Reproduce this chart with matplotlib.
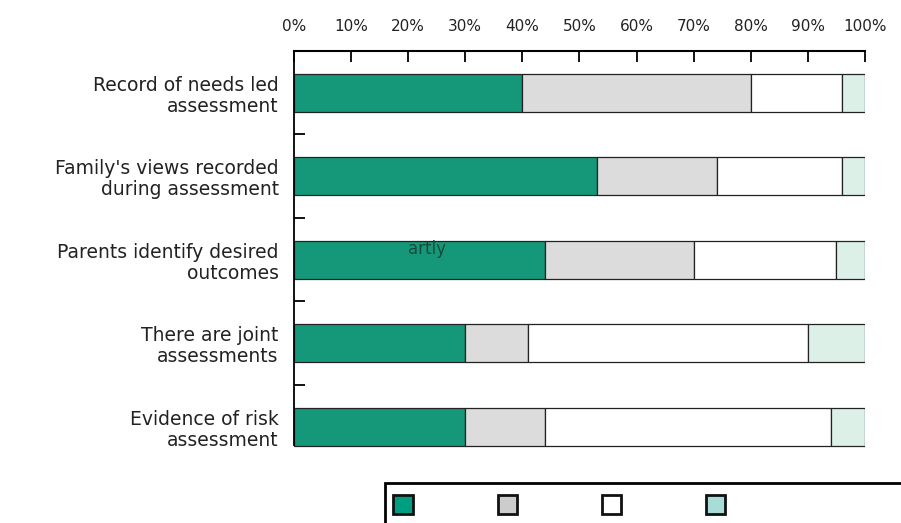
import matplotlib
matplotlib.use("Agg")
import matplotlib.pyplot as plt
from matplotlib.patches import Patch, Rectangle

categories = [
    "Record of needs led\nassessment",
    "Family's views recorded\nduring assessment",
    "Parents identify desired\noutcomes",
    "There are joint\nassessments",
    "Evidence of risk\nassessment",
]
series_names = ["Fully", "Partly", "Not at all", "Not known"]
fully = [40, 53, 44, 30, 30]
partly = [40, 21, 26, 11, 14]
not_at_all = [16, 22, 25, 49, 50]
not_known = [4, 4, 5, 10, 6]
tick_values = [0, 10, 20, 30, 40, 50, 60, 70, 80, 90, 100]
tick_labels = [f"{v}%" for v in tick_values]

bar_colors = ["#15987a", "#dcdcdc", "#ffffff", "#dcf0e8"]
legend_colors = ["#009e80", "#cccccc", "#ffffff", "#a8dcd6"]

plt.rcParams["font.family"] = ["DejaVu Sans"]
fig = plt.figure(figsize=(9.01, 5.23), dpi=100)
ax = fig.add_axes([0.3263, 0.1042, 0.6337, 0.7983])

y = list(range(len(categories)))
left = [0] * len(categories)
for vals, col in zip([fully, partly, not_at_all, not_known], bar_colors):
    ax.barh(y, vals, left=left, height=0.46, color=col,
            edgecolor="#222222", linewidth=0.9)
    left = [a + b for a, b in zip(left, vals)]

ax.set_xlim(0, 100)
ax.set_ylim(4.5, -0.5)
ax.xaxis.tick_top()
ax.set_xticks(tick_values)
ax.set_xticklabels(tick_labels, fontsize=11, color="#222222")
ax.tick_params(axis="x", direction="in", length=8, width=1.3, pad=12)

ax.set_yticks([0.5, 1.5, 2.5, 3.5])
ax.set_yticklabels([])
ax.tick_params(axis="y", which="major", direction="in", length=8, width=1.3)
ax.set_yticks(y, minor=True)
ax.set_yticklabels(categories, minor=True, fontsize=13.5, color="#222222",
                   linespacing=1.12)
ax.tick_params(axis="y", which="minor", length=0, pad=11)

for s in ["right", "bottom"]:
    ax.spines[s].set_visible(False)
ax.spines["top"].set_linewidth(1.5)
ax.spines["left"].set_linewidth(1.3)
ax.spines["left"].set_bounds(-0.5, 4.22)

ax.text(20, 1.87, "artly", fontsize=12, color="#1a4a3a", ha="left", va="center")

# legend frame (extends past the figure edge)
fig.patches.append(Rectangle((385 / 901, -0.05), 0.6, 1 - 483 / 523 + 0.05,
                             transform=fig.transFigure, fill=False,
                             edgecolor="black", linewidth=2, clip_on=False))
handles = [Patch(facecolor=c, edgecolor="#111111", linewidth=2) for c in legend_colors]
fig.legend(handles, ["", "", "", ""], ncol=4, frameon=False,
           loc="upper left", bbox_to_anchor=(385 / 901, 1 - 487 / 523),
           handlelength=1.4, handleheight=1.7, handletextpad=0.0,
           columnspacing=6.1, borderpad=0.1, fontsize=10)

fig.savefig("out.png", dpi=100)
